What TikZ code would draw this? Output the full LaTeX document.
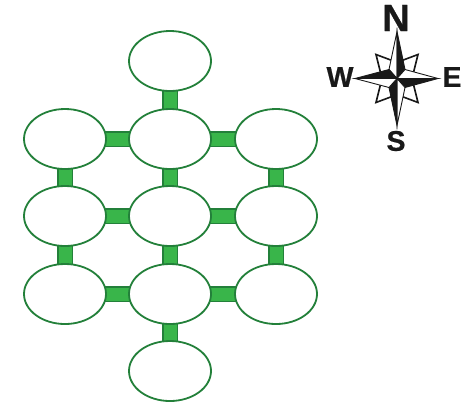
\documentclass[tikz,border=0pt]{standalone}
\usepackage{fontspec}
\setmainfont{Liberation Sans}[BoldFeatures={FakeBold=0.6}]
\usetikzlibrary{shapes.geometric,backgrounds}
\definecolor{ringgreen}{HTML}{23803A}
\definecolor{barfill}{HTML}{39B54A}
\tikzset{
  cell/.style={ellipse,draw=ringgreen,fill=white,line width=1.8bp,minimum width=82bp,minimum height=60bp,inner sep=0pt},
  link/.style={draw=ringgreen,line width=1.2bp,double=barfill,double distance=13bp,line cap=butt},
  dirlabel/.style={font=\bfseries\fontsize{28.5bp}{29bp}\selectfont,text=black!90,inner sep=0pt},
  bigdir/.style={font=\bfseries\fontsize{38bp}{39bp}\selectfont,text=black!90,inner sep=0pt},
  halfwhite/.style={fill=white,draw=black!90,line width=0.9bp,line join=miter},
  halfblack/.style={fill=black!90,draw=black!90,line width=0.9bp,line join=miter},
  petal/.style={fill=white,draw=black!90,line width=1.6bp,line join=miter}
}
\begin{document}
\begin{tikzpicture}[x=1bp,y=-1bp]
\useasboundingbox (0,0) rectangle (472,403);
\node[cell] (top) at (170,61) {};
\node[cell] (a1) at (65,139) {};
\node[cell] (a2) at (170,139) {};
\node[cell] (a3) at (276,139) {};
\node[cell] (b1) at (65,216) {};
\node[cell] (b2) at (170,216) {};
\node[cell] (b3) at (276,216) {};
\node[cell] (c1) at (65,294) {};
\node[cell] (c2) at (170,294) {};
\node[cell] (c3) at (276,294) {};
\node[cell] (bot) at (170,371) {};
\begin{scope}[on background layer]
\draw[link] (top.center) -- (a2.center);
\draw[link] (a1.center) -- (a2.center);
\draw[link] (a2.center) -- (a3.center);
\draw[link] (a1.center) -- (b1.center);
\draw[link] (a2.center) -- (b2.center);
\draw[link] (a3.center) -- (b3.center);
\draw[link] (b1.center) -- (b2.center);
\draw[link] (b2.center) -- (b3.center);
\draw[link] (b1.center) -- (c1.center);
\draw[link] (b2.center) -- (c2.center);
\draw[link] (b3.center) -- (c3.center);
\draw[link] (c1.center) -- (c2.center);
\draw[link] (c2.center) -- (c3.center);
\draw[link] (c2.center) -- (bot.center);
\end{scope}
% compass
\begin{scope}[shift={(397,78.5)}]
\foreach \sx/\sy in {1/1,1/-1,-1/1,-1/-1}{
  \draw[petal] (\sx*5,\sy*18) -- (\sx*21,\sy*24) -- (\sx*16.5,\sy*6) -- (0,0) -- cycle;
}
\draw[halfwhite] (0,0) -- (0,-47) -- (-8,-9) -- cycle;
\draw[halfblack] (0,0) -- (0,-47) -- (8,-9) -- cycle;
\draw[halfwhite] (0,0) -- (41,0) -- (8,-9) -- cycle;
\draw[halfblack] (0,0) -- (41,0) -- (8,9) -- cycle;
\draw[halfwhite] (0,0) -- (0,47) -- (8,9) -- cycle;
\draw[halfblack] (0,0) -- (0,47) -- (-8,9) -- cycle;
\draw[halfwhite] (0,0) -- (-42,0) -- (-8,9) -- cycle;
\draw[halfblack] (0,0) -- (-42,0) -- (-8,-9) -- cycle;
\end{scope}
\node[bigdir] (n) at (396,18) {N};
\node[dirlabel] (w) at (340,77) {W};
\node[dirlabel] (e) at (452,77) {E};
\node[dirlabel] (s) at (396,141) {S};
\end{tikzpicture}
\end{document}
